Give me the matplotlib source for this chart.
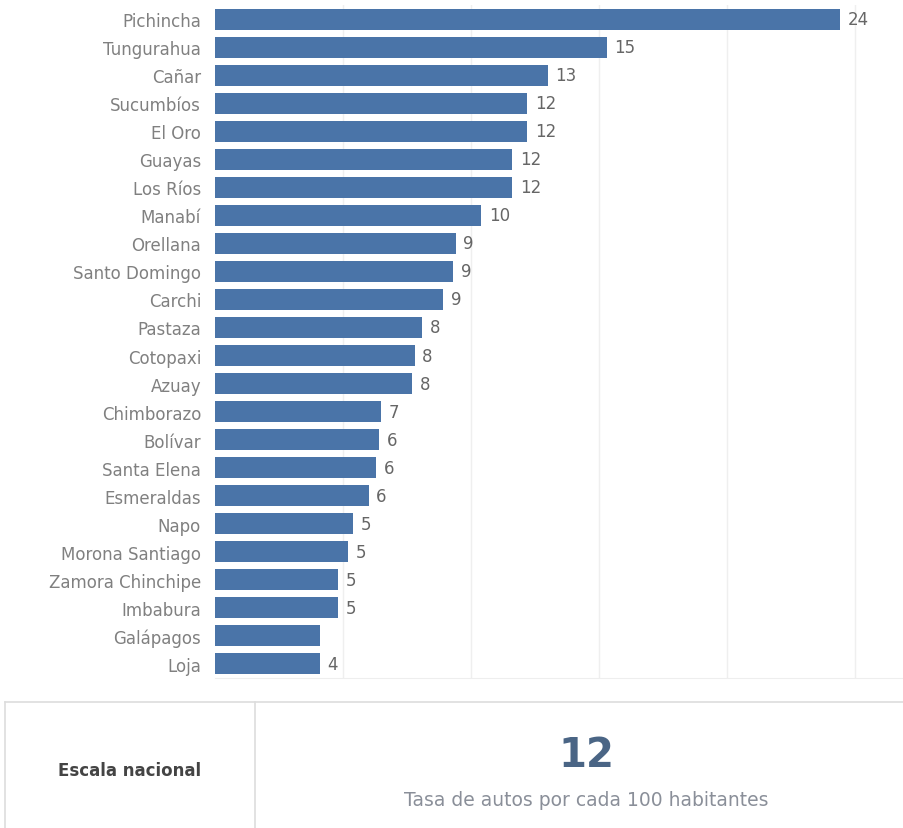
import matplotlib
matplotlib.use("Agg")
import matplotlib.pyplot as plt
from matplotlib.lines import Line2D

provinces = ["Pichincha", "Tungurahua", "Cañar", "Sucumbíos", "El Oro", "Guayas",
             "Los Ríos", "Manabí", "Orellana", "Santo Domingo", "Carchi", "Pastaza",
             "Cotopaxi", "Azuay", "Chimborazo", "Bolívar", "Santa Elena", "Esmeraldas",
             "Napo", "Morona Santiago", "Zamora Chinchipe", "Imbabura", "Galápagos", "Loja"]
rates = [24.4, 15.3, 13.0, 12.2, 12.2, 11.6, 11.6, 10.4, 9.4, 9.3, 8.9, 8.1,
         7.8, 7.7, 6.5, 6.4, 6.3, 6.0, 5.4, 5.2, 4.8, 4.8, 4.1, 4.1]
value_labels = ["24", "15", "13", "12", "12", "12", "12", "10", "9", "9", "9", "8",
                "8", "8", "7", "6", "6", "6", "5", "5", "5", "5", "", "4"]
grid_ticks = [5, 10, 15, 20, 25]
national_value = "12"
national_title = "Escala nacional"
national_caption = "Tasa de autos por cada 100 habitantes"

W, H = 904, 829
fig = plt.figure(figsize=(W / 100, H / 100), dpi=100)
fig.patch.set_facecolor("white")

# main bar axes (pixel-based placement)
left, right, top, bottom = 215, 904, 6, 679
ax = fig.add_axes([left / W, 1 - bottom / H, (right - left) / W, (bottom - top) / H])
n = len(provinces)
ypos = list(range(n))
ax.barh(ypos, rates, height=0.75, color="#4a74a8", zorder=3)
ax.set_ylim(n - 0.5, -0.5)
ax.set_xlim(0, (right - left) / 25.6)
ax.set_yticks(ypos)
ax.set_yticklabels(provinces, fontsize=12, color="#808080", family="DejaVu Sans")
ax.tick_params(axis="y", length=0, pad=10)
ax.set_xticks(grid_ticks)
ax.tick_params(axis="x", length=0, labelbottom=False)
ax.grid(axis="x", color="#efefef", linewidth=1, zorder=0)
for s in ["top", "right", "left"]:
    ax.spines[s].set_visible(False)
ax.spines["bottom"].set_color("#eeeeee")

for y, v, lab in zip(ypos, rates, value_labels):
    if lab:
        ax.text(v + 0.3, y, lab, va="center", ha="left", fontsize=12,
                color="#666666", family="DejaVu Sans")

# bottom panel
line_kw = dict(color="#dddddd", linewidth=1.2, transform=fig.transFigure)
fig.add_artist(Line2D([5 / W, 1], [1 - 703 / H, 1 - 703 / H], **line_kw))
fig.add_artist(Line2D([5 / W, 5 / W], [1 - 703 / H, 0], **line_kw))
fig.add_artist(Line2D([255 / W, 255 / W], [1 - 703 / H, 0], **line_kw))

fig.text(130 / W, 1 - 771 / H, national_title, ha="center", va="center",
         fontsize=12, color="#444444", family="DejaVu Sans", fontweight="bold")
fig.text(586 / W, 1 - 756 / H, national_value, ha="center", va="center",
         fontsize=29, color="#4a6585", family="DejaVu Sans", fontweight="bold")
fig.text(586 / W, 1 - 801 / H, national_caption, ha="center", va="center",
         fontsize=13.5, color="#8a8f99", family="DejaVu Sans")

fig.savefig("out.png", dpi=100, facecolor="white")
